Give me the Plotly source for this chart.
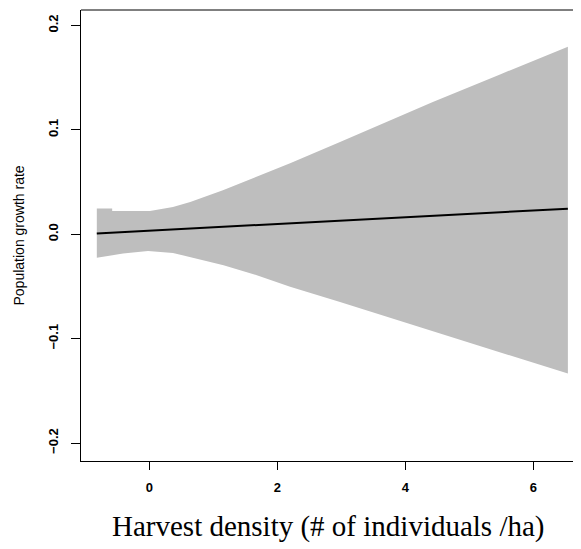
import plotly.graph_objects as go

# Band (confidence interval) edges
upper_x = [-0.82, -0.58, -0.58, 0.01, 0.37, 0.64, 1.15, 1.68, 2.20, 2.98, 4.43, 5.48, 6.54]
upper_y = [0.0246, 0.0246, 0.0223, 0.0223, 0.0261, 0.0309, 0.0421, 0.0548, 0.0679, 0.0883, 0.1266, 0.1531, 0.1795]
lower_x = [-0.82, -0.41, -0.02, 0.37, 0.64, 1.16, 1.68, 2.20, 2.98, 4.43, 5.48, 6.54]
lower_y = [-0.0225, -0.0185, -0.0160, -0.0179, -0.0217, -0.0297, -0.0392, -0.0504, -0.0648, -0.0925, -0.1129, -0.1335]

# Fitted line
fit_x = [-0.82, 6.54]
fit_y = [0.0007, 0.0245]

x_ticks = [0, 2, 4, 6]
y_ticks = [-0.2, -0.1, 0.0, 0.1, 0.2]
y_tick_labels = ["\u22120.2", "\u22120.1", "0.0", "0.1", "0.2"]

x_title = "Harvest density (# of individuals /ha)"
y_title = "Population growth rate"

fig = go.Figure()
fig.add_trace(go.Scatter(
    x=upper_x + lower_x[::-1],
    y=upper_y + lower_y[::-1],
    fill="toself", fillcolor="#BEBEBE",
    line=dict(width=0), mode="lines", hoverinfo="skip", showlegend=False,
))
fig.add_trace(go.Scatter(
    x=fit_x, y=fit_y, mode="lines",
    line=dict(color="black", width=2), showlegend=False,
))

tickfont = dict(family="Liberation Sans, Arial, sans-serif", size=13, color="black", weight="bold")

fig.update_layout(
    width=573, height=541,
    margin=dict(l=73, r=0, t=1.5, b=87.5),
    paper_bgcolor="white", plot_bgcolor="white",
    xaxis=dict(
        range=[-1.067, 6.745], tickvals=x_ticks,
        showgrid=False, zeroline=False,
        showline=True, linecolor="black", linewidth=1,
        ticks="outside", ticklen=8, tickwidth=1, tickcolor="black",
        tickfont=tickfont, ticklabelstandoff=6,
    ),
    yaxis=dict(
        range=[-0.2172, 0.2148], tickvals=y_ticks, ticktext=y_tick_labels,
        showgrid=False, zeroline=False,
        showline=True, linecolor="black", linewidth=1,
        ticks="outside", ticklen=9, tickwidth=1, tickcolor="black",
        tickfont=tickfont, tickangle=-90, ticklabelstandoff=8,
    ),
    shapes=[dict(type="line", xref="paper", yref="paper", x0=0, x1=1, y0=1, y1=1,
                 line=dict(color="black", width=1))],
    annotations=[
        dict(text=x_title, xref="paper", yref="paper", x=0.5, y=0,
             xanchor="center", yanchor="middle", xshift=-2.5, yshift=-65,
             showarrow=False,
             font=dict(family="Liberation Serif, Times New Roman, serif", size=29, color="black")),
        dict(text=y_title, xref="paper", yref="paper", x=0, y=0.5,
             xanchor="center", yanchor="middle", xshift=-63, textangle=-90,
             showarrow=False,
             font=dict(family="Liberation Sans, Arial, sans-serif", size=14, color="black")),
    ],
)

fig.write_html("out.html")
